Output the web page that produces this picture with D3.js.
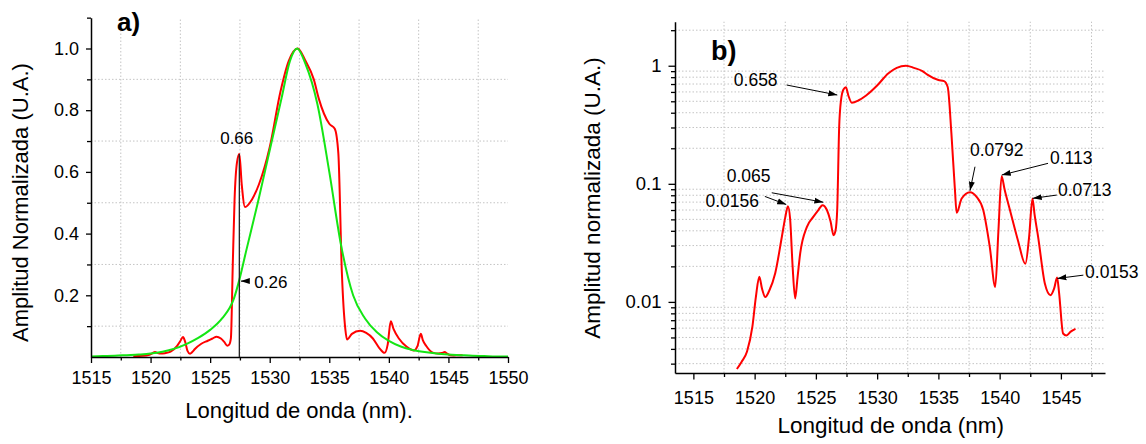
<!DOCTYPE html>
<html>
<head>
<meta charset="utf-8">
<script src="https://cdn.jsdelivr.net/npm/d3@7"></script>
<style>
  body { margin: 0; background: #fff; }
  svg { display: block; }
</style>
</head>
<body>
<script>
// measured spectrum (normalised), same data on both panels
var wavelength = [1518.55, 1518.93, 1519.38, 1519.82, 1520.1, 1520.38, 1520.6, 1520.87, 1521.2, 1521.68,
  1522.23, 1522.5, 1522.72, 1522.9, 1523.1, 1523.31, 1523.5, 1523.72, 1524.26, 1524.8,
  1525.2, 1525.54, 1525.9, 1526.2, 1526.44, 1526.6, 1526.74, 1526.9, 1527.05, 1527.25,
  1527.45, 1527.65, 1527.93, 1528.5, 1529.1, 1530.0, 1530.9, 1531.6, 1532.35, 1533.0,
  1533.7, 1534.1, 1535.0, 1535.46, 1535.76, 1536.06, 1536.35, 1536.49, 1536.9, 1537.58,
  1538.1, 1538.66, 1539.2, 1539.64, 1539.9, 1540.16, 1540.4, 1540.84, 1541.5, 1542.1,
  1542.4, 1542.68, 1542.85, 1543.14, 1543.69, 1544.15, 1544.45, 1544.69, 1544.85, 1545.18,
  1545.45, 1545.8, 1546.19];
var amplitude = [0.0027, 0.0031, 0.0038, 0.0062, 0.011, 0.0163, 0.013, 0.011, 0.0125, 0.0175,
  0.036, 0.052, 0.0647, 0.05, 0.02, 0.0107, 0.016, 0.0258, 0.043, 0.0527,
  0.06, 0.066, 0.06, 0.048, 0.0367, 0.04, 0.06, 0.3, 0.51, 0.63,
  0.658, 0.56, 0.486, 0.51, 0.56, 0.68, 0.86, 0.96, 1.0, 0.96,
  0.9, 0.84, 0.756, 0.74, 0.66, 0.27, 0.089, 0.0568, 0.075, 0.085,
  0.078, 0.06, 0.029, 0.0134, 0.04, 0.116, 0.09, 0.06, 0.033, 0.021,
  0.035, 0.075, 0.055, 0.0356, 0.0143, 0.0114, 0.013, 0.0161, 0.012, 0.0054,
  0.0052, 0.0056, 0.0059];

// fitted curve (green, panel a)
var fitWavelength = [1515, 1516, 1517, 1518, 1519, 1520, 1521, 1522, 1523, 1524, 1525, 1526, 1527,
  1527.45, 1528, 1529, 1530, 1531, 1531.7, 1532.3, 1533, 1534, 1535, 1536, 1537, 1538, 1539,
  1540, 1541, 1542, 1543, 1544, 1545, 1546, 1547, 1548, 1549, 1550];
var fitAmplitude = [0.002, 0.003, 0.004, 0.006, 0.008, 0.011, 0.017, 0.027, 0.042, 0.062, 0.088, 0.125, 0.19,
  0.25, 0.34, 0.5, 0.67, 0.84, 0.96, 1.0, 0.95, 0.82, 0.6, 0.36, 0.2, 0.125, 0.08,
  0.052, 0.034, 0.023, 0.016, 0.011, 0.008, 0.006, 0.004, 0.003, 0.002, 0.002];

// ticks
var xMajorA = [1515, 1520, 1525, 1530, 1535, 1540, 1545, 1550];
var xMajorB = [1515, 1520, 1525, 1530, 1535, 1540, 1545];
var xMinor = [1517.5, 1522.5, 1527.5, 1532.5, 1537.5, 1542.5, 1547.5];
var yMajorA = [0.2, 0.4, 0.6, 0.8, 1.0];
var yMinorA = [0.1, 0.3, 0.5, 0.7, 0.9, 1.1];
var yMajorB = [0.01, 0.1, 1];
var yMinorB = [0.003, 0.004, 0.005, 0.006, 0.007, 0.008, 0.009,
  0.02, 0.03, 0.04, 0.05, 0.06, 0.07, 0.08, 0.09,
  0.2, 0.3, 0.4, 0.5, 0.6, 0.7, 0.8, 0.9, 2];

// annotations
var peakA = { x: 1527.45, y: 0.658, label: '0.66' };
var fitMarkA = { x: 1527.45, y: 0.246, label: '0.26' };
var peakLabelsB = ['0.658', '0.065', '0.0156', '0.0792', '0.113', '0.0713', '0.0153'];
var peakXB = [1526.75, 1525.61, 1522.58, 1537.58, 1540.17, 1542.7, 1544.71];
var peakYB = [0.565, 0.0698, 0.0668, 0.0874, 0.1187, 0.0753, 0.0158];
// label layout (pixel offsets from the arrow tip): tail dx, dy, text dx, dy, anchor
var layoutB = [
  [-50.7, -10, -59.7, -9.4, 'end'],
  [-51.6, -9.5, -52.9, -20.4, 'end'],
  [-21.4, -8.1, -27.2, 2.8, 'end'],
  [5, -24, 0, -34.4, 'start'],
  [46.3, -11.7, 48.3, -11.4, 'start'],
  [24, -3.3, 25.3, -2, 'start'],
  [26, -3.3, 27.7, -0.3, 'start']
];

var FONT = '"Liberation Sans", Arial, sans-serif';
var RED = '#ff0000';
var GREEN = '#14e614';
var GRID = '#c4c4c4';

var svg = d3.select('body').append('svg')
  .attr('width', 1146)
  .attr('height', 444)
  .style('font-family', FONT);

var defs = svg.append('defs');
defs.append('marker')
  .attr('id', 'arrow')
  .attr('markerUnits', 'userSpaceOnUse')
  .attr('viewBox', '0 -4 9 8')
  .attr('refX', 9)
  .attr('refY', 0)
  .attr('markerWidth', 9)
  .attr('markerHeight', 8)
  .attr('orient', 'auto')
  .append('path')
  .attr('d', 'M0,-3L9,0L0,3Z')
  .attr('fill', '#000');

var spectrum = wavelength.map((w, i) => ({ x: w, y: amplitude[i] }));
var fit = fitWavelength.map((w, i) => ({ x: w, y: fitAmplitude[i] }));

function styleAxis(g, size) {
  g.attr('font-family', FONT).attr('font-size', size);
  g.select('.domain').attr('stroke', '#000').attr('stroke-width', 1.5);
  g.selectAll('.tick line').attr('stroke', '#000').attr('stroke-width', 1.3);
  g.selectAll('.tick text').attr('fill', '#000');
}

function minorAxis(g) {
  g.select('.domain').remove();
  g.selectAll('.tick line').attr('stroke', '#000').attr('stroke-width', 1.3);
}

// ---------- panel a (linear) ----------
var xA = d3.scaleLinear().domain([1515, 1550]).range([91, 508]);
var yA = d3.scaleLinear().domain([0, 1.1]).range([357, 17.65]);
var pA = svg.append('g');

pA.append('g').selectAll('line').data(xMinor).join('line')
  .attr('x1', d => xA(d)).attr('x2', d => xA(d))
  .attr('y1', yA(0)).attr('y2', yA(1.1))
  .attr('stroke', GRID).attr('stroke-dasharray', '1.5,2');
pA.append('g').selectAll('line').data(yMinorA.filter(d => d < 1.05)).join('line')
  .attr('x1', xA(1515)).attr('x2', xA(1550))
  .attr('y1', d => yA(d)).attr('y2', d => yA(d))
  .attr('stroke', GRID).attr('stroke-dasharray', '1.5,2');

var lineA = d3.line().x(d => xA(d.x)).y(d => yA(d.y)).curve(d3.curveMonotoneX);
pA.append('path').datum(spectrum).attr('d', lineA)
  .attr('fill', 'none').attr('stroke', RED).attr('stroke-width', 2);
pA.append('path').datum(fit).attr('d', lineA)
  .attr('fill', 'none').attr('stroke', GREEN).attr('stroke-width', 2);

pA.append('g').attr('transform', 'translate(0,357)')
  .call(d3.axisBottom(xA).tickValues(xMinor).tickSize(3.5).tickFormat(''))
  .call(minorAxis);
pA.append('g').attr('transform', 'translate(0,357)')
  .call(d3.axisBottom(xA).tickValues(xMajorA).tickSize(6).tickSizeOuter(0).tickPadding(8).tickFormat(d3.format('d')))
  .call(g => styleAxis(g, 18));
pA.append('g').attr('transform', 'translate(91,0)')
  .call(d3.axisLeft(yA).tickValues(yMinorA).tickSize(4).tickFormat(''))
  .call(minorAxis);
pA.append('g').attr('transform', 'translate(91,0)')
  .call(d3.axisLeft(yA).tickValues(yMajorA).tickSize(5).tickSizeOuter(0).tickPadding(7).tickFormat(d3.format('.1f')))
  .call(g => styleAxis(g, 18));

// peak marker line and labels
pA.append('line')
  .attr('x1', xA(peakA.x)).attr('x2', xA(peakA.x))
  .attr('y1', yA(0)).attr('y2', yA(peakA.y))
  .attr('stroke', '#222').attr('stroke-width', 1.3);
pA.append('text')
  .attr('x', xA(peakA.x) - 2.6).attr('y', yA(peakA.y) - 10)
  .attr('text-anchor', 'middle').attr('font-size', 17)
  .text(peakA.label);
pA.append('line')
  .attr('x1', xA(fitMarkA.x) + 9).attr('x2', xA(fitMarkA.x) + 1.5)
  .attr('y1', yA(fitMarkA.y)).attr('y2', yA(fitMarkA.y))
  .attr('stroke', '#000').attr('stroke-width', 1)
  .attr('marker-end', 'url(#arrow)');
pA.append('text')
  .attr('x', xA(fitMarkA.x) + 15).attr('y', yA(fitMarkA.y) + 6.6)
  .attr('font-size', 17)
  .text(fitMarkA.label);

pA.append('text')
  .attr('x', 117).attr('y', 31)
  .attr('font-size', 26).attr('font-weight', 'bold')
  .text('a)');
pA.append('text')
  .attr('x', 299).attr('y', 418)
  .attr('text-anchor', 'middle').attr('font-size', 22)
  .text('Longitud de onda (nm).');
pA.append('text')
  .attr('transform', 'translate(28,202.5) rotate(-90)')
  .attr('text-anchor', 'middle').attr('font-size', 22)
  .text('Amplitud Normalizada (U.A.)');

// ---------- panel b (log) ----------
var xB = d3.scaleLinear().domain([1513.5, 1548.6]).range([675, 1105]);
var yB = d3.scaleLog().domain([0.0025, 2.36]).range([373, 21.7]);
var pB = svg.append('g');

pB.append('g').selectAll('line').data(xMinor).join('line')
  .attr('x1', d => xB(d)).attr('x2', d => xB(d))
  .attr('y1', yB(0.0025)).attr('y2', yB(2.36))
  .attr('stroke', GRID).attr('stroke-dasharray', '1.5,2');
pB.append('g').selectAll('line').data(yMinorB).join('line')
  .attr('x1', xB(1513.5)).attr('x2', xB(1548.6))
  .attr('y1', d => yB(d)).attr('y2', d => yB(d))
  .attr('stroke', GRID).attr('stroke-dasharray', '1.5,2');

var lineB = d3.line().x(d => xB(d.x)).y(d => yB(d.y)).curve(d3.curveMonotoneX);
pB.append('path').datum(spectrum).attr('d', lineB)
  .attr('fill', 'none').attr('stroke', RED).attr('stroke-width', 2);

pB.append('g').attr('transform', 'translate(0,373)')
  .call(d3.axisBottom(xB).tickValues(xMinor).tickSize(4).tickFormat(''))
  .call(minorAxis);
pB.append('g').attr('transform', 'translate(0,373)')
  .call(d3.axisBottom(xB).tickValues(xMajorB).tickSize(6.5).tickSizeOuter(0).tickPadding(11.5).tickFormat(d3.format('d')))
  .call(g => styleAxis(g, 18));
pB.append('g').attr('transform', 'translate(675,0)')
  .call(d3.axisLeft(yB).tickValues(yMinorB).tickSize(4).tickFormat(''))
  .call(minorAxis);
pB.append('g').attr('transform', 'translate(675,0)')
  .call(d3.axisLeft(yB).tickValues(yMajorB).tickSize(6.5).tickSizeOuter(0).tickPadding(7).tickFormat(d => String(d)))
  .call(g => styleAxis(g, 18.5));

peakLabelsB.forEach((label, i) => {
  var tx = xB(peakXB[i]), ty = yB(peakYB[i]);
  var l = layoutB[i];
  pB.append('line')
    .attr('x1', tx + l[0]).attr('y1', ty + l[1])
    .attr('x2', tx).attr('y2', ty)
    .attr('stroke', '#000').attr('stroke-width', 1)
    .attr('marker-end', 'url(#arrow)');
  pB.append('text')
    .attr('x', tx + l[2]).attr('y', ty + l[3])
    .attr('text-anchor', l[4]).attr('font-size', 17.5)
    .text(label);
});

pB.append('text')
  .attr('x', 711).attr('y', 60)
  .attr('font-size', 27).attr('font-weight', 'bold')
  .text('b)');
pB.append('text')
  .attr('x', 890.7).attr('y', 433)
  .attr('text-anchor', 'middle').attr('font-size', 22.5)
  .text('Longitud de onda (nm)');
pB.append('text')
  .attr('transform', 'translate(600,198) rotate(-90)')
  .attr('text-anchor', 'middle').attr('font-size', 22.5)
  .text('Amplitud normalizada (U.A.)');
</script>
</body>
</html>
